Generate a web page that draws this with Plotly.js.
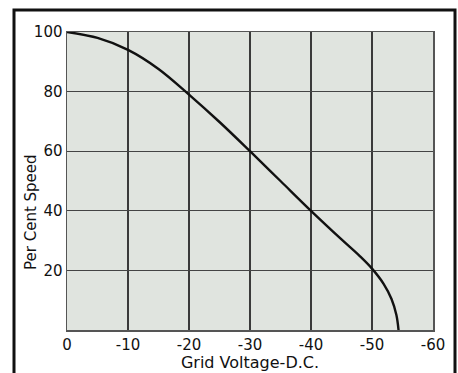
<!DOCTYPE html>
<html>
<head>
<meta charset="utf-8">
<script src="https://cdn.plot.ly/plotly-3.0.1.min.js"></script>
<style>
html,body{margin:0;padding:0;background:#fff;}
#chart{width:458px;height:373px;}
</style>
</head>
<body>
<div id="chart"></div>
<script>
// Data
const gridVoltage = [0, -5, -10, -15, -20, -25, -30, -35, -40, -45, -48, -50, -51.9, -53.2, -54, -54.35];
const percentSpeed = [100, 98, 94, 87.6, 79, 69.8, 60, 50, 40, 30.4, 24.8, 20.6, 15.5, 10.4, 5, 0];
const xTickVals = [0, -10, -20, -30, -40, -50, -60];
const xTickText = ["0", "-10", "-20", "-30", "-40", "-50", "-60"];
const yTickVals = [20, 40, 60, 80, 100];
const yTickText = ["20", "40", "60", "80", "100"];
const xTitle = "Grid Voltage-D.C.";
const yTitle = "Per Cent Speed";

const font = "DejaVu Sans, sans-serif";

const trace = {
  x: gridVoltage,
  y: percentSpeed,
  type: "scatter",
  mode: "lines",
  line: {color: "#111", width: 2.4, shape: "spline", smoothing: 1},
  hoverinfo: "skip"
};

const layout = {
  width: 458,
  height: 373,
  margin: {l: 67, r: 25, t: 32, b: 43},
  paper_bgcolor: "#ffffff",
  plot_bgcolor: "#e0e4df",
  showlegend: false,
  font: {family: font, color: "#111", size: 15},
  xaxis: {
    range: [0, -60],
    tickvals: xTickVals,
    ticktext: xTickText,
    ticks: "",
    showgrid: true,
    gridcolor: "#3a3a3a",
    gridwidth: 1.3,
    zeroline: false,
    showline: true,
    mirror: true,
    linecolor: "#555",
    linewidth: 1.5,
    tickfont: {family: font, size: 15, color: "#111"},
    title: {text: xTitle, font: {family: font, size: 16, color: "#111"}, standoff: 0}
  },
  yaxis: {
    range: [0, 100],
    tickvals: yTickVals,
    ticktext: yTickText,
    ticks: "",
    showgrid: true,
    gridcolor: "#444",
    gridwidth: 1.3,
    zeroline: false,
    showline: true,
    mirror: true,
    linecolor: "#555",
    linewidth: 1.5,
    tickfont: {family: font, size: 15, color: "#111"}
  },
  annotations: [{
    text: yTitle,
    xref: "paper", yref: "paper",
    x: (31 - 67) / 366, y: (330 - 212) / 298,
    xanchor: "center", yanchor: "middle",
    textangle: -90,
    showarrow: false,
    font: {family: font, size: 15, color: "#111"}
  }],
  shapes: [{
    type: "rect",
    xref: "paper", yref: "paper",
    x0: (14 - 67) / 366, x1: (455 - 67) / 366,
    y0: (330 - 390) / 298, y1: (330 - 10) / 298,
    line: {color: "#111", width: 3},
    fillcolor: "rgba(0,0,0,0)",
    layer: "below"
  }]
};

Plotly.newPlot("chart", [trace], layout, {staticPlot: true, displayModeBar: false});
</script>
</body>
</html>
